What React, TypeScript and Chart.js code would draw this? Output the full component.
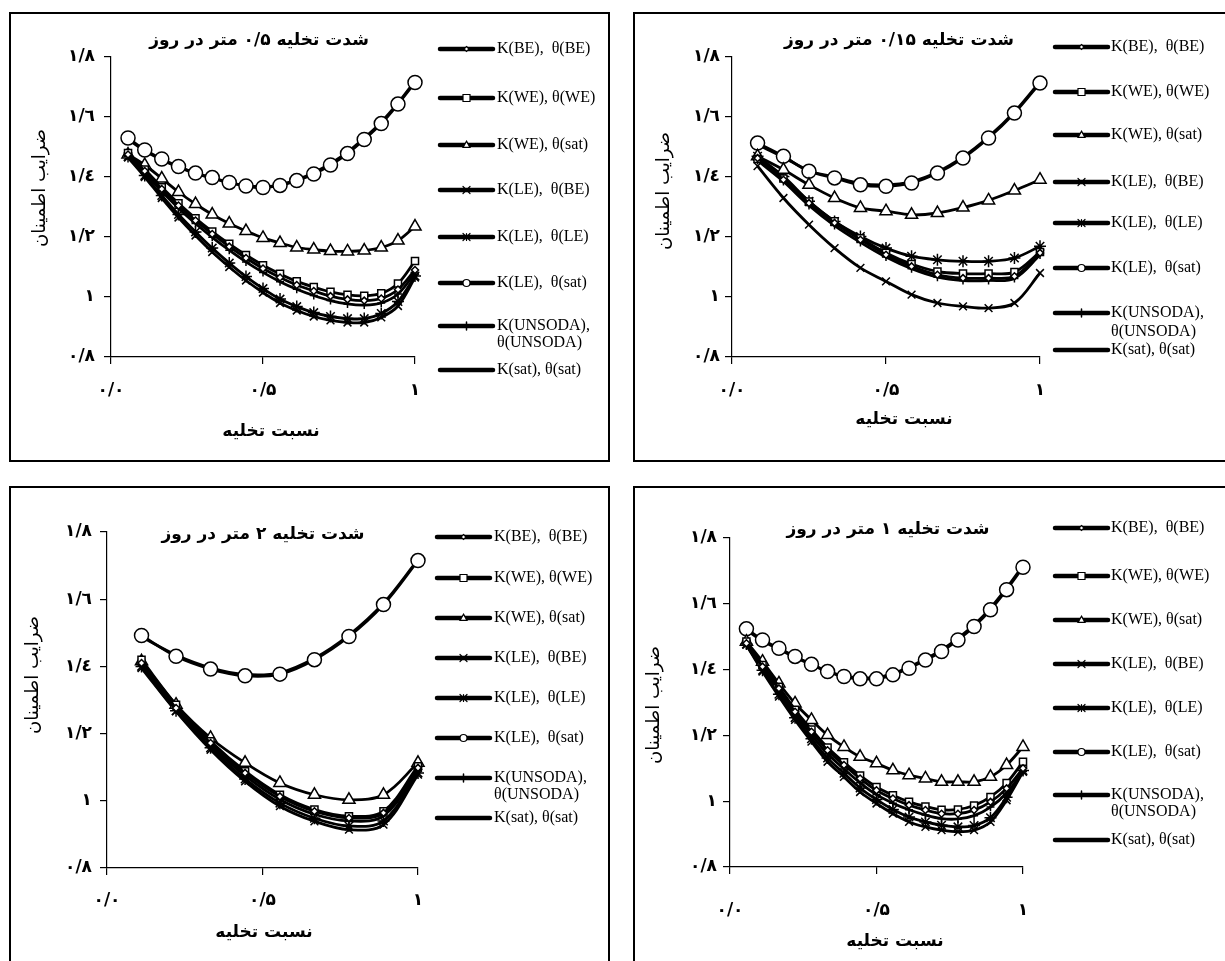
import React, { useEffect, useRef } from 'react';
import { Chart, registerables } from 'chart.js';
Chart.register(...registerables);

// ---------- x positions (drainage ratio) ----------
const X18 = [0.056, 0.111, 0.167, 0.222, 0.278, 0.333, 0.389, 0.444, 0.5, 0.556, 0.611, 0.667, 0.722, 0.778, 0.833, 0.889, 0.944, 1.0];
const X12 = [0.083, 0.167, 0.25, 0.333, 0.417, 0.5, 0.583, 0.667, 0.75, 0.833, 0.917, 1.0];
const X9 = [0.111, 0.222, 0.333, 0.444, 0.556, 0.667, 0.778, 0.889, 1.0];

// ---------- panel: 0.5 m/day ----------
const p05_BE = [1.475, 1.42, 1.36, 1.305, 1.255, 1.21, 1.168, 1.13, 1.095, 1.065, 1.04, 1.02, 1.003, 0.992, 0.988, 0.995, 1.025, 1.09];
const p05_WE = [1.48, 1.425, 1.366, 1.312, 1.262, 1.218, 1.177, 1.14, 1.106, 1.077, 1.052, 1.033, 1.017, 1.007, 1.004, 1.012, 1.045, 1.12];
const p05_WEsat = [1.475, 1.44, 1.395, 1.35, 1.31, 1.275, 1.245, 1.22, 1.197, 1.18, 1.165, 1.158, 1.153, 1.152, 1.155, 1.165, 1.188, 1.235];
const p05_LEBE = [1.465, 1.4, 1.33, 1.265, 1.205, 1.15, 1.1, 1.055, 1.015, 0.98, 0.955, 0.935, 0.922, 0.915, 0.915, 0.932, 0.97, 1.065];
const p05_LELE = [1.468, 1.405, 1.338, 1.275, 1.217, 1.163, 1.113, 1.068, 1.028, 0.993, 0.968, 0.948, 0.935, 0.928, 0.928, 0.945, 0.985, 1.07];
const p05_LEsat = [1.53, 1.49, 1.46, 1.435, 1.413, 1.398, 1.382, 1.37, 1.365, 1.372, 1.388, 1.41, 1.44, 1.478, 1.525, 1.578, 1.643, 1.715];
const p05_UNS = [1.47, 1.413, 1.352, 1.296, 1.245, 1.199, 1.156, 1.117, 1.082, 1.051, 1.026, 1.005, 0.988, 0.977, 0.973, 0.98, 1.01, 1.08];
const p05_sat = [1.525, 1.487, 1.457, 1.433, 1.412, 1.396, 1.381, 1.371, 1.367, 1.375, 1.391, 1.414, 1.445, 1.483, 1.53, 1.583, 1.647, 1.72];

// ---------- panel: 0.15 m/day ----------
const p015_BE = [1.463, 1.391, 1.313, 1.247, 1.191, 1.141, 1.102, 1.074, 1.063, 1.063, 1.069, 1.147];
const p015_WE = [1.46, 1.395, 1.318, 1.252, 1.196, 1.147, 1.11, 1.085, 1.078, 1.078, 1.083, 1.15];
const p015_WEsat = [1.469, 1.424, 1.374, 1.33, 1.297, 1.286, 1.274, 1.28, 1.298, 1.322, 1.355, 1.391];
const p015_LEBE = [1.436, 1.33, 1.241, 1.163, 1.097, 1.052, 1.008, 0.98, 0.969, 0.963, 0.98, 1.08];
const p015_LELE = [1.469, 1.402, 1.319, 1.252, 1.202, 1.163, 1.136, 1.124, 1.119, 1.119, 1.13, 1.169];
const p015_LEsat = [1.513, 1.469, 1.419, 1.397, 1.374, 1.369, 1.38, 1.413, 1.463, 1.53, 1.613, 1.713];
const p015_UNS = [1.455, 1.385, 1.305, 1.238, 1.182, 1.133, 1.094, 1.066, 1.055, 1.055, 1.062, 1.14];
const p015_sat = [1.508, 1.466, 1.421, 1.4, 1.379, 1.374, 1.385, 1.417, 1.467, 1.534, 1.617, 1.718];

// ---------- panel: 2 m/day ----------
const p2_BE = [1.41, 1.276, 1.172, 1.083, 1.013, 0.969, 0.949, 0.964, 1.098];
const p2_WE = [1.42, 1.286, 1.177, 1.088, 1.018, 0.974, 0.954, 0.969, 1.103];
const p2_WEsat = [1.415, 1.286, 1.187, 1.113, 1.053, 1.018, 1.003, 1.018, 1.113];
const p2_LEBE = [1.395, 1.266, 1.152, 1.058, 0.984, 0.939, 0.914, 0.929, 1.078];
const p2_LELE = [1.4, 1.268, 1.158, 1.065, 0.993, 0.948, 0.925, 0.94, 1.083];
const p2_LEsat = [1.492, 1.43, 1.392, 1.372, 1.377, 1.42, 1.489, 1.584, 1.715];
const p2_UNS = [1.405, 1.27, 1.165, 1.075, 1.004, 0.96, 0.94, 0.955, 1.09];
const p2_sat = [1.488, 1.434, 1.396, 1.376, 1.381, 1.424, 1.493, 1.588, 1.718];

// ---------- panel: 1 m/day ----------
const p1_BE = [1.48, 1.409, 1.343, 1.272, 1.211, 1.155, 1.11, 1.069, 1.033, 1.008, 0.988, 0.973, 0.962, 0.962, 0.973, 0.998, 1.039, 1.1];
const p1_WE = [1.485, 1.414, 1.348, 1.278, 1.218, 1.163, 1.118, 1.078, 1.043, 1.018, 0.998, 0.984, 0.974, 0.975, 0.987, 1.013, 1.055, 1.12];
const p1_WEsat = [1.485, 1.424, 1.358, 1.297, 1.247, 1.201, 1.165, 1.135, 1.115, 1.094, 1.079, 1.069, 1.059, 1.059, 1.059, 1.074, 1.11, 1.165];
const p1_LEBE = [1.475, 1.394, 1.318, 1.247, 1.181, 1.12, 1.074, 1.028, 0.993, 0.962, 0.937, 0.922, 0.912, 0.907, 0.912, 0.937, 1.003, 1.089];
const p1_LELE = [1.478, 1.398, 1.325, 1.254, 1.19, 1.131, 1.085, 1.04, 1.005, 0.975, 0.952, 0.937, 0.927, 0.922, 0.926, 0.95, 1.012, 1.093];
const p1_LEsat = [1.524, 1.49, 1.465, 1.44, 1.416, 1.394, 1.379, 1.372, 1.372, 1.384, 1.404, 1.429, 1.455, 1.49, 1.531, 1.582, 1.643, 1.711];
const p1_UNS = [1.475, 1.402, 1.334, 1.263, 1.201, 1.144, 1.098, 1.056, 1.02, 0.994, 0.974, 0.958, 0.947, 0.946, 0.956, 0.982, 1.025, 1.09];
const p1_sat = [1.52, 1.487, 1.462, 1.438, 1.415, 1.395, 1.381, 1.375, 1.376, 1.388, 1.408, 1.433, 1.46, 1.495, 1.536, 1.587, 1.648, 1.716];

// ---------- ticks & labels ----------
const Y_TICKS = [0.8, 1.0, 1.2, 1.4, 1.6, 1.8];
const Y_TICK_LABELS = ['٠/٨', '١', '١/٢', '١/٤', '١/٦', '١/٨'];
const X_TICKS = [0, 0.5, 1];
const X_TICK_LABELS = ['۰/۰', '۰/۵', '۱'];
const Y_TITLE = 'ضرایب اطمینان';
const X_TITLE = 'نسبت تخلیه';
const SERIES_LABELS = [
  ['K(BE),  θ(BE)'],
  ['K(WE), θ(WE)'],
  ['K(WE), θ(sat)'],
  ['K(LE),  θ(BE)'],
  ['K(LE),  θ(LE)'],
  ['K(LE),  θ(sat)'],
  ['K(UNSODA),', 'θ(UNSODA)'],
  ['K(sat), θ(sat)'],
];
const MARKERS = ['rectRot', 'rect', 'triangle', 'crossRot', 'star', 'circle', 'cross', 'none'];
const MARKER_R = [3.5, 5, 7, 5.5, 6, 7, 4, 0];
const LEGEND_R = [2.5, 3.5, 3.5, 3.5, 3.5, 3.5, 4, 0];

type Panel = {
  box: { left: number; top: number; width: number; height: number };
  area: { left: number; right: number; top: number; bottom: number };
  title: string;
  titlePos: [number, number];
  yTitlePos: [number, number];
  xTitlePos: [number, number];
  xTickPad: number;
  yTickPad: number;
  legend: { x1: number; x2: number; tx: number; rows: number[]; gap: number };
  xs: number[];
  series: number[][];
};

const PANELS: Panel[] = [
  {
    box: { left: 9, top: 12, width: 601, height: 450 },
    area: { left: 111, right: 415, top: 57, bottom: 357 },
    title: 'شدت تخلیه ۰/۵ متر در روز',
    titlePos: [259, 41],
    yTitlePos: [40, 188],
    xTitlePos: [271, 432],
    xTickPad: 16,
    yTickPad: 9,
    legend: { x1: 440, x2: 493, tx: 497, rows: [49, 98, 145, 190, 237, 283, 326, 370], gap: 17 },
    xs: X18,
    series: [p05_BE, p05_WE, p05_WEsat, p05_LEBE, p05_LELE, p05_LEsat, p05_UNS, p05_sat],
  },
  {
    box: { left: 633, top: 12, width: 600, height: 450 },
    area: { left: 732, right: 1040, top: 57, bottom: 357 },
    title: 'شدت تخلیه ۰/۱۵ متر در روز',
    titlePos: [899, 41],
    yTitlePos: [664, 191],
    xTitlePos: [904, 420],
    xTickPad: 16,
    yTickPad: 5,
    legend: { x1: 1055, x2: 1108, tx: 1111, rows: [47, 92, 135, 182, 223, 268, 313, 350], gap: 19 },
    xs: X12,
    series: [p015_BE, p015_WE, p015_WEsat, p015_LEBE, p015_LELE, p015_LEsat, p015_UNS, p015_sat],
  },
  {
    box: { left: 9, top: 486, width: 601, height: 480 },
    area: { left: 107, right: 418, top: 532, bottom: 868 },
    title: 'شدت تخلیه ۲ متر در روز',
    titlePos: [263, 535],
    yTitlePos: [33, 675],
    xTitlePos: [264, 933],
    xTickPad: 15,
    yTickPad: 8,
    legend: { x1: 437, x2: 490, tx: 494, rows: [537, 578, 618, 658, 698, 738, 778, 818], gap: 17 },
    xs: X9,
    series: [p2_BE, p2_WE, p2_WEsat, p2_LEBE, p2_LELE, p2_LEsat, p2_UNS, p2_sat],
  },
  {
    box: { left: 633, top: 486, width: 600, height: 480 },
    area: { left: 730, right: 1023, top: 538, bottom: 867 },
    title: 'شدت تخلیه ۱ متر در روز',
    titlePos: [888, 530],
    yTitlePos: [654, 705],
    xTitlePos: [895, 942],
    xTickPad: 26,
    yTickPad: 6,
    legend: { x1: 1055, x2: 1108, tx: 1111, rows: [528, 576, 620, 664, 708, 752, 795, 840], gap: 17 },
    xs: X18,
    series: [p1_BE, p1_WE, p1_WEsat, p1_LEBE, p1_LELE, p1_LEsat, p1_UNS, p1_sat],
  },
];

function drawMarker(ctx: CanvasRenderingContext2D, style: string, x: number, y: number, r: number) {
  ctx.save();
  ctx.lineWidth = 1.2;
  ctx.strokeStyle = '#000';
  ctx.fillStyle = '#fff';
  ctx.beginPath();
  switch (style) {
    case 'circle':
      ctx.arc(x, y, r, 0, Math.PI * 2);
      ctx.fill();
      ctx.stroke();
      break;
    case 'rect':
      ctx.rect(x - r, y - r, 2 * r, 2 * r);
      ctx.fill();
      ctx.stroke();
      break;
    case 'rectRot':
      ctx.moveTo(x, y - r);
      ctx.lineTo(x + r, y);
      ctx.lineTo(x, y + r);
      ctx.lineTo(x - r, y);
      ctx.closePath();
      ctx.fill();
      ctx.stroke();
      break;
    case 'triangle':
      ctx.moveTo(x, y - r * 1.1);
      ctx.lineTo(x + r, y + r * 0.7);
      ctx.lineTo(x - r, y + r * 0.7);
      ctx.closePath();
      ctx.fill();
      ctx.stroke();
      break;
    case 'crossRot':
      ctx.moveTo(x - r, y - r);
      ctx.lineTo(x + r, y + r);
      ctx.moveTo(x + r, y - r);
      ctx.lineTo(x - r, y + r);
      ctx.stroke();
      break;
    case 'star':
      ctx.moveTo(x - r, y - r);
      ctx.lineTo(x + r, y + r);
      ctx.moveTo(x + r, y - r);
      ctx.lineTo(x - r, y + r);
      ctx.moveTo(x, y - r);
      ctx.lineTo(x, y + r);
      ctx.stroke();
      break;
    case 'cross':
      ctx.lineWidth = 1.5;
      ctx.moveTo(x, y - r);
      ctx.lineTo(x, y + r);
      ctx.stroke();
      break;
    default:
      break;
  }
  ctx.restore();
}

function PanelChart({ cfg }: { cfg: Panel }) {
  const ref = useRef<HTMLCanvasElement | null>(null);
  const ox = cfg.box.left + 2;
  const oy = cfg.box.top + 2;
  const cw = cfg.box.width - 4;
  const ch = cfg.box.height - 4;

  useEffect(() => {
    const canvas = ref.current;
    if (!canvas) return;
    const YW = 80;
    const XH = 50;
    const aL = cfg.area.left - ox;
    const aR = cfg.area.right - ox;
    const aT = cfg.area.top - oy;
    const aB = cfg.area.bottom - oy;

    const datasets = cfg.series.map((ys, i) => ({
      label: SERIES_LABELS[i].join(' '),
      data: ys.map((y, j) => ({ x: cfg.xs[j], y })),
      borderColor: '#000',
      backgroundColor: '#fff',
      borderWidth: 2.8,
      tension: 0.35,
      fill: false,
      clip: false,
      pointStyle: MARKERS[i] === 'none' ? 'circle' : MARKERS[i],
      pointRadius: MARKER_R[i],
      pointHoverRadius: MARKER_R[i],
      pointBorderWidth: 1.5,
      pointBackgroundColor: '#fff',
      pointBorderColor: '#000',
    }));

    const decor = {
      id: 'decor',
      afterDraw(chart: any) {
        const ctx: CanvasRenderingContext2D = chart.ctx;
        ctx.save();
        ctx.fillStyle = '#000';
        ctx.strokeStyle = '#000';
        // title
        ctx.textAlign = 'center';
        ctx.textBaseline = 'middle';
        ctx.font = 'bold 17px "DejaVu Sans"';
        ctx.fillText(cfg.title, cfg.titlePos[0] - ox, cfg.titlePos[1] - oy);
        // x title
        ctx.font = 'bold 17px "DejaVu Sans"';
        ctx.fillText(X_TITLE, cfg.xTitlePos[0] - ox, cfg.xTitlePos[1] - oy);
        // y title
        ctx.save();
        ctx.translate(cfg.yTitlePos[0] - ox, cfg.yTitlePos[1] - oy);
        ctx.rotate(-Math.PI / 2);
        ctx.font = '18px "DejaVu Sans"';
        ctx.fillText(Y_TITLE, 0, 0);
        ctx.restore();
        // legend
        const lg = cfg.legend;
        for (let i = 0; i < SERIES_LABELS.length; i++) {
          const y = lg.rows[i] - oy;
          ctx.lineWidth = 4.5;
          ctx.lineCap = 'round';
          ctx.beginPath();
          ctx.moveTo(lg.x1 - ox, y);
          ctx.lineTo(lg.x2 - ox, y);
          ctx.stroke();
          drawMarker(ctx, MARKERS[i], (lg.x1 + lg.x2) / 2 - ox, y, LEGEND_R[i]);
          ctx.font = '16px "Liberation Serif"';
          ctx.textAlign = 'left';
          ctx.textBaseline = 'middle';
          SERIES_LABELS[i].forEach((t, k) => {
            ctx.fillText(t, lg.tx - ox, y + k * lg.gap);
          });
        }
        ctx.restore();
      },
    };

    const chart = new Chart(canvas, {
      type: 'line',
      data: { datasets: datasets as any },
      options: {
        responsive: false,
        animation: false,
        layout: {
          padding: {
            left: aL - YW,
            right: cw - aR,
            top: aT,
            bottom: ch - aB - XH,
          },
        },
        plugins: {
          legend: { display: false },
          tooltip: { enabled: false },
          title: { display: false },
        },
        scales: {
          x: {
            type: 'linear',
            min: 0,
            max: 1,
            afterFit: (s: any) => {
              s.height = XH;
            },
            afterBuildTicks: (s: any) => {
              s.ticks = X_TICKS.map((v) => ({ value: v }));
            },
            ticks: {
              autoSkip: false,
              maxRotation: 0,
              padding: cfg.xTickPad,
              color: '#000',
              font: { family: '"DejaVu Sans"', size: 17, weight: 'bold' },
              callback: (_v: any, i: number) => X_TICK_LABELS[i],
            },
            grid: { drawOnChartArea: false, drawTicks: true, tickLength: 7, color: '#000', lineWidth: 1.2 },
            border: { display: true, color: '#000', width: 1.2 },
          },
          y: {
            type: 'linear',
            min: 0.8,
            max: 1.8,
            afterFit: (s: any) => {
              s.width = YW;
            },
            afterBuildTicks: (s: any) => {
              s.ticks = Y_TICKS.map((v) => ({ value: v }));
            },
            ticks: {
              autoSkip: false,
              padding: cfg.yTickPad,
              color: '#000',
              font: { family: '"DejaVu Sans"', size: 17, weight: 'bold' },
              callback: (_v: any, i: number) => Y_TICK_LABELS[i],
            },
            grid: { drawOnChartArea: false, drawTicks: true, tickLength: 7, color: '#000', lineWidth: 1.2 },
            border: { display: true, color: '#000', width: 1.2 },
          },
        },
      } as any,
      plugins: [decor as any],
    });
    return () => chart.destroy();
  }, [cfg]);

  return (
    <div
      style={{
        position: 'absolute',
        left: cfg.box.left,
        top: cfg.box.top,
        width: cfg.box.width,
        height: cfg.box.height,
        border: '2px solid #000',
        boxSizing: 'border-box',
        background: '#fff',
      }}
    >
      <canvas ref={ref} width={cw} height={ch} style={{ display: 'block', width: cw, height: ch }} />
    </div>
  );
}

export default function App() {
  return (
    <div
      style={{
        position: 'fixed',
        left: 0,
        top: 0,
        width: 1225,
        height: 961,
        overflow: 'hidden',
        background: '#fff',
      }}
    >
      {PANELS.map((p, i) => (
        <PanelChart key={i} cfg={p} />
      ))}
    </div>
  );
}
